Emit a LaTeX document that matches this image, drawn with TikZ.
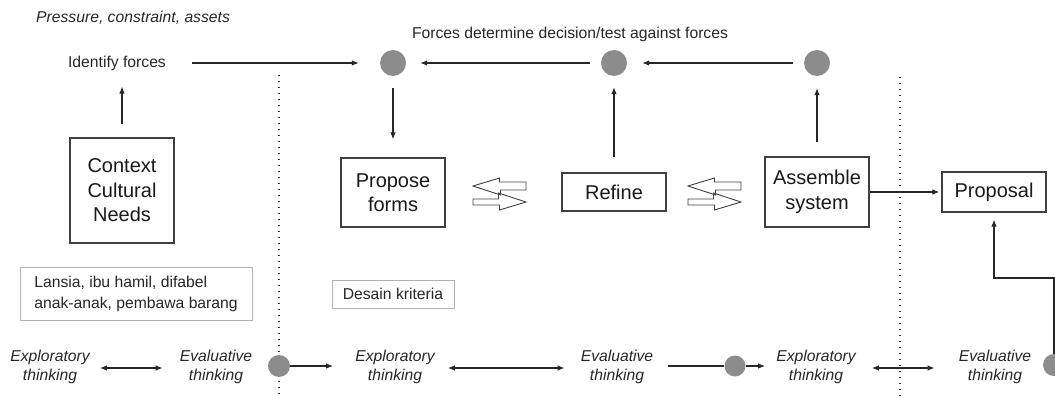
\documentclass[tikz,border=0pt]{standalone}
\usepackage{fontspec}
\setmainfont{Liberation Sans}
\usetikzlibrary{arrows.meta}
\begin{document}
\begin{tikzpicture}[x=1pt,y=-1pt,
  txt/.style={font=\fontsize{15.7}{19}\selectfont, inner sep=0pt, text=black!85},
  itx/.style={font=\fontsize{15.7}{19.5}\selectfont\itshape, inner sep=0pt, align=center, text=black!85},
  box/.style={draw=black!75, line width=1.2pt, minimum width=104pt, inner sep=0pt, align=center, font=\fontsize{20}{24.5}\selectfont, text=black!90},
  lbox/.style={draw=black!30, line width=0.8pt, inner sep=0pt, font=\fontsize{15.7}{21}\selectfont, text=black!85},
  gdot/.style={circle, fill=black!45, inner sep=0pt, minimum size=26pt},
  conn/.style={draw=black!85, line width=1.1pt},
  arr/.style={conn, -{Latex[length=7pt,width=5.5pt]}},
  darr/.style={conn, {Latex[length=7pt,width=5.5pt]}-{Latex[length=7pt,width=5.5pt]}},
  sepline/.style={draw=black!80, line width=1.3pt, dash pattern=on 1.3pt off 4.7pt},
  hollow/.style={draw=black!75, line width=0.9pt, line join=miter},
  swap/.pic={
    \draw[hollow] (26.5,-12) -- (0,-12) -- (0,-16) -- (-26.5,-8) -- (1,1) -- (1,-4) -- (26.5,-4) -- cycle;
    \draw[hollow] (-26.5,5) -- (-1,5) -- (-1,-1) -- (26.5,8) -- (0,16) -- (0,11) -- (-26.5,11) -- cycle;
  }
]
\useasboundingbox (0,0) rectangle (1055,398);
\clip (0,0) rectangle (1055,398);

% top texts
\node[txt, anchor=west, font=\fontsize{15.7}{19}\selectfont\itshape] (pca) at (36,18) {Pressure, constraint, assets};
\node[txt] (idf) at (117,63) {Identify forces};
\node[txt] (fdt) at (570,34) {Forces determine decision/test against forces};

% circles
\node[gdot] (c1) at (393,63) {};
\node[gdot] (c2) at (614,63) {};
\node[gdot] (c3) at (817,63) {};

% boxes
\node[box, minimum height=105pt] (ctx) at (122,190.5) {Context\\Cultural\\Needs};
\node[box, minimum height=69pt] (pf) at (393,192.5) {Propose\\forms};
\node[box, minimum height=38pt] (ref) at (614,192) {Refine};
\node[box, minimum height=70pt] (asm) at (817,192) {Assemble\\system};
\node[box, minimum height=40pt] (prop) at (994,192) {Proposal};

\node[lbox, align=left, minimum width=232pt, minimum height=53pt] (lan) at (136,293.5) {Lansia, ibu hamil, difabel\\anak-anak, pembawa barang};
\node[lbox, minimum width=122pt, minimum height=28pt] (dk) at (393,294) {Desain kriteria};

% hollow double arrows
\pic at (499.5,194) {swap};
\pic at (714.5,194) {swap};

% separators
\coordinate (s1t) at (279,75);
\coordinate (s1b) at (279,398);
\coordinate (s2t) at (900,77);
\coordinate (s2b) at (900,398);
\draw[sepline] (s1t) -- (s1b);
\draw[sepline] (s2t) -- (s2b);

% bottom row
\node[itx] (ex1) at (50,367) {Exploratory\\thinking};
\node[itx] (ev1) at (216,367) {Evaluative\\thinking};
\node[gdot, minimum size=22pt] (b1) at (279,366) {};
\node[itx] (ex2) at (395,367) {Exploratory\\thinking};
\node[itx] (ev2) at (617,367) {Evaluative\\thinking};
\node[gdot, minimum size=21pt] (b2) at (735,366) {};
\node[itx] (ex3) at (816,367) {Exploratory\\thinking};
\node[itx] (ev3) at (995,367) {Evaluative\\thinking};
\node[gdot, minimum size=22pt] (b3) at (1054,365) {};

% top connectors
\draw[arr] ([xshift=26pt]idf.east) -- ([xshift=-21pt]c1.west);
\draw[arr] ([xshift=-11pt]c2.west) -- ([xshift=14pt]c1.east);
\draw[arr] ([xshift=-11pt]c3.west) -- ([xshift=15pt]c2.east);
\draw[arr] ([yshift=-12pt]c1.south) -- ([yshift=18pt]pf.north);
\draw[arr] ([yshift=15pt]ref.north) -- ([yshift=-11pt]c2.south);
\draw[arr] ([yshift=14pt]asm.north) -- ([yshift=-12pt]c3.south);
\draw[arr] ([yshift=13pt]ctx.north) -- ([yshift=-16pt]ctx.north |- idf.south);
\draw[arr] (asm.east) -- ([xshift=-2pt]prop.west);

% bottom connectors
\draw[darr] ([xshift=10pt,yshift=-1pt]ex1.east) -- ([xshift=-17pt,yshift=-1pt]ev1.west);
\draw[arr] (b1.east) -- ([xshift=-22pt]ex2.west |- b1);
\draw[darr] ([xshift=13pt,yshift=-1pt]ex2.east) -- ([xshift=-16pt,yshift=-1pt]ev2.west);
\draw[conn] ([xshift=15pt]ev2.east |- b2) -- (b2.west);
\draw[arr] (b2.east) -- ([xshift=-11pt]ex3.west |- b2);
\draw[darr] ([xshift=16pt,yshift=-1pt]ex3.east) -- ([xshift=-24pt,yshift=-1pt]ev3.west);
\coordinate (turn) at (994,278);
\draw[arr] (b3.north) |- (turn) -- ([yshift=-7pt]prop.south);
\end{tikzpicture}
\end{document}
